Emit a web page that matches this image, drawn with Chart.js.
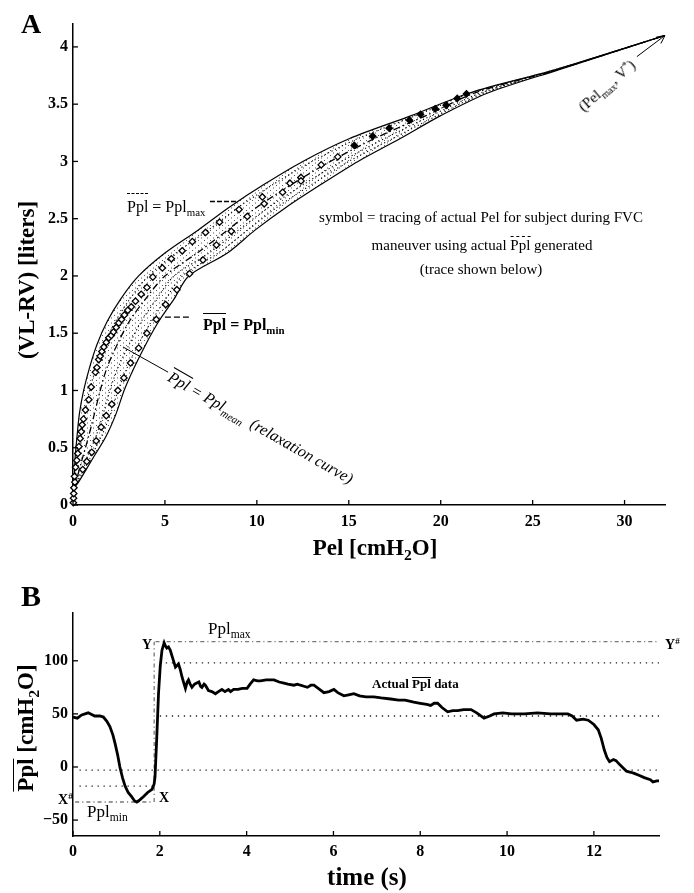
<!DOCTYPE html>
<html>
<head>
<meta charset="utf-8">
<title>Pel vs lung volume, and Ppl trace</title>
<script src="https://cdn.jsdelivr.net/npm/chart.js@4.4.0/dist/chart.umd.min.js"></script>
<style>
  html, body { margin: 0; padding: 0; background: #fff; }
  body { width: 694px; height: 893px; position: relative; overflow: hidden;
         font-family: "Liberation Serif", "Times New Roman", serif; color: #000; }
  canvas { position: absolute; left: 0; }
  #chartA { top: 0; }
  #chartB { top: 560px; }
  .lbl { position: absolute; white-space: nowrap; line-height: 1; }
  .b { font-weight: bold; }
  .ov { display: inline-block; border-top: 1.2px solid #000; line-height: 0.8; }
  .dash { border-top-style: dashed; }
  sub { font-size: 0.68em; vertical-align: -0.38em; line-height: 0; }
  sup { font-size: 0.65em; vertical-align: 0.5em; line-height: 0; }
</style>
</head>
<body>
<canvas id="chartA" width="694" height="560"></canvas>
<canvas id="chartB" width="694" height="333"></canvas>

<!-- panel A text -->
<div class="lbl b" style="left:21px;top:10px;font-size:28px">A</div>
<div class="lbl b" style="left:26px;top:280px;font-size:23px;transform:translate(-50%,-50%) rotate(-90deg)">(VL-RV) [liters]</div>
<div class="lbl b" style="left:375px;top:547px;font-size:23px;transform:translate(-50%,-50%)">Pel [cmH<sub>2</sub>O]</div>
<div class="lbl" style="left:127px;top:193px;font-size:16px"><span class="ov dash" style="padding-top:7px">Ppl</span> = Ppl<sub>max</sub></div>
<div class="lbl b" style="left:203px;top:313px;font-size:16px"><span class="ov" style="padding-top:5px">Ppl</span> = Ppl<sub>min</sub></div>
<div class="lbl" style="left:261px;top:427px;font-size:16px;font-style:italic;transform:translate(-50%,-50%) rotate(29.7deg)"><span class="ov" style="padding-top:3px">Ppl</span> = Ppl<sub>mean</sub>&nbsp; (relaxation curve)</div>
<div class="lbl" style="left:481px;top:210px;font-size:15px;transform:translateX(-50%)">symbol = tracing of actual Pel for subject during FVC</div>
<div class="lbl" style="left:482px;top:236px;font-size:15px;transform:translateX(-50%)">maneuver using actual <span class="ov dash" style="padding-top:2px">Ppl</span> generated</div>
<div class="lbl" style="left:481px;top:262px;font-size:15px;transform:translateX(-50%)">(trace shown below)</div>
<div class="lbl" style="left:607px;top:86px;font-size:15px;transform:translate(-50%,-50%) rotate(-41deg)">(Pel<sub>max</sub>, V<sup>*</sup>)</div>

<!-- panel B text -->
<div class="lbl b" style="left:21px;top:581px;font-size:30px">B</div>
<div class="lbl b" style="left:25px;top:728px;font-size:23px;transform:translate(-50%,-50%) rotate(-90deg)"><span class="ov" style="padding-top:3px">Ppl</span> [cmH<sub>2</sub>O]</div>
<div class="lbl b" style="left:367px;top:876px;font-size:25px;transform:translate(-50%,-50%)">time (s)</div>
<div class="lbl" style="left:208px;top:620px;font-size:17px">Ppl<sub>max</sub></div>
<div class="lbl b" style="left:142px;top:638px;font-size:14px">Y</div>
<div class="lbl b" style="left:665px;top:638px;font-size:14px">Y<sup>#</sup></div>
<div class="lbl b" style="left:58px;top:793px;font-size:14px">X<sup>#</sup></div>
<div class="lbl b" style="left:159px;top:791px;font-size:14px">X</div>
<div class="lbl" style="left:87px;top:803px;font-size:17px">Ppl<sub>min</sub></div>
<div class="lbl b" style="left:372px;top:677px;font-size:13px">Actual <span class="ov" style="padding-top:1px">Ppl</span> data</div>

<script>
// --- Panel A: Pel (cmH2O) read at each volume above RV (liters) ---
const volA    = [0.14, 0.2, 0.4, 0.6, 0.8, 1.0, 1.2, 1.4, 1.6, 1.8, 2.0, 2.2, 2.4, 2.6, 2.8, 3.0, 3.2, 3.4, 3.6, 3.8, 4.1];
const pelMax  = [0, 0.06, 0.11, 0.22, 0.35, 0.58, 0.9, 1.3, 1.85, 2.6, 3.57, 5.0, 6.8, 8.5, 10.4, 12.5, 15.05, 18.4, 21.6, 26.2, 32.2];
const pelD1   = [0, 0.09, 0.25, 0.45, 0.65, 0.9, 1.25, 1.7, 2.3, 3.1, 4.1, 5.6, 7.35, 9.0, 10.9, 13.0, 15.5, 18.65, 21.7, 26.2, 32.2];
const pelMean = [0, 0.15, 0.5, 0.85, 1.17, 1.48, 1.85, 2.4, 3.05, 3.95, 5.0, 6.75, 8.4, 10.0, 11.9, 14.0, 16.4, 19.2, 21.9, 26.3, 32.2];
const pelD2   = [0, 0.2, 0.72, 1.25, 1.65, 2.0, 2.45, 3.05, 3.7, 4.55, 5.5, 7.4, 9.0, 10.65, 12.55, 14.6, 16.95, 19.5, 22.2, 26.3, 32.2];
const pelD3   = [0, 0.25, 0.9, 1.55, 2.05, 2.45, 2.95, 3.55, 4.25, 5.05, 5.95, 7.9, 9.5, 11.1, 13.0, 15.0, 17.4, 19.8, 22.4, 26.35, 32.2];
const pelMin  = [0, 0.3, 1.05, 1.8, 2.35, 2.78, 3.33, 3.95, 4.65, 5.5, 6.3, 8.4, 9.9, 11.6, 13.5, 15.5, 17.8, 20.0, 22.6, 26.4, 32.2];

// symbols: subject's actual Pel during the FVC
const tracePel = [0.02, 0.03, 0.04, 0.05, 0.1,
  0.08, 0.14, 0.21, 0.26, 0.32, 0.39, 0.45, 0.5, 0.57, 0.68, 0.86, 0.99, 1.22, 1.3, 1.4, 1.48, 1.57, 1.68, 1.81, 1.95,
  2.08, 2.2, 2.35, 2.49, 2.64, 2.8, 2.98, 3.17, 3.4, 3.71, 4.02, 4.34, 4.86, 5.35, 5.94, 6.49, 7.21, 7.97, 9.03, 10.3,
  11.8, 12.4, 13.5, 14.4, 15.3, 16.3, 17.2, 18.3, 18.9, 19.7, 20.3, 20.9, 21.4,
  0.53, 0.75, 1.02, 1.26, 1.53, 1.81, 2.11, 2.44, 2.77, 3.13, 3.57, 4.02, 4.53, 5.04, 5.65, 6.34, 7.07, 7.8, 8.61, 9.48,
  10.4, 11.4, 12.4];
const traceVol = [0.02, 0.06, 0.10, 0.15, 0.2,
  0.25, 0.33, 0.39, 0.45, 0.51, 0.58, 0.64, 0.70, 0.75, 0.83, 0.92, 1.03, 1.16, 1.20, 1.27, 1.30, 1.34, 1.38, 1.42, 1.46,
  1.48, 1.51, 1.55, 1.59, 1.62, 1.66, 1.70, 1.73, 1.78, 1.84, 1.90, 1.99, 2.07, 2.15, 2.22, 2.30, 2.38, 2.47, 2.58, 2.69,
  2.81, 2.86, 2.97, 3.04, 3.14, 3.22, 3.29, 3.36, 3.41, 3.46, 3.49, 3.55, 3.59,
  0.31, 0.38, 0.46, 0.56, 0.68, 0.78, 0.88, 1.0, 1.11, 1.24, 1.37, 1.50, 1.62, 1.75, 1.88, 2.02, 2.14, 2.27, 2.39, 2.52,
  2.63, 2.73, 2.83];

const xTicksA = [0, 5, 10, 15, 20, 25, 30];
const yTicksA = [0, 0.5, 1, 1.5, 2, 2.5, 3, 3.5, 4];

// --- Panel B: actual Ppl trace (cmH2O) over time (s) ---
const timeB = [0, 0.1, 0.2, 0.35, 0.5, 0.62, 0.7, 0.78, 0.85, 0.92, 0.97, 1.03, 1.08, 1.14, 1.2, 1.27, 1.35, 1.42, 1.47,
  1.54, 1.62, 1.72, 1.82, 1.87, 1.89, 1.93, 1.97, 2.01, 2.05, 2.1, 2.13, 2.16, 2.2, 2.24, 2.3, 2.36, 2.43, 2.47, 2.51,
  2.56, 2.59, 2.63, 2.66, 2.7, 2.74, 2.8, 2.85, 2.9, 2.94, 2.97, 3.02, 3.05, 3.12, 3.2, 3.28, 3.35, 3.43, 3.5, 3.58,
  3.63, 3.7, 3.8, 3.9, 4.01, 4.08, 4.16, 4.25, 4.32, 4.45, 4.55, 4.63, 4.75, 4.86, 4.95, 5.09, 5.17, 5.24, 5.32, 5.4,
  5.48, 5.55, 5.65, 5.78, 5.9, 6.01, 6.1, 6.24, 6.35, 6.47, 6.6, 6.75, 6.93, 7.1, 7.32, 7.5, 7.65, 7.85, 8.0, 8.15,
  8.24, 8.32, 8.4, 8.5, 8.63, 8.75, 8.86, 9.0, 9.17, 9.3, 9.47, 9.6, 9.7, 9.9, 10.1, 10.4, 10.7, 11.0, 11.2, 11.4,
  11.5, 11.6, 11.75, 11.87, 12.0, 12.1, 12.17, 12.24, 12.3, 12.36, 12.45, 12.51, 12.6, 12.75, 12.85, 12.93, 13.05,
  13.16, 13.3, 13.36, 13.45, 13.5];
const pplB = [47, 46, 49, 51, 48, 48, 47, 43, 38, 30, 22, 11, 0, -10, -18, -24, -28, -32, -33,
  -31, -28, -24, -21, -16, -9, 28, 69, 95, 110, 117, 114, 112, 113, 110, 102, 94, 97, 92, 85,
  78, 74, 80, 82, 78, 75, 78, 79, 80, 76, 75, 78, 77, 72, 71, 69, 71, 73, 71, 73,
  71, 73, 73, 74, 74, 78, 82, 81, 81, 82, 82, 82, 80, 79, 78, 77, 78, 77, 76, 75,
  77, 77, 74, 70, 71, 73, 70, 67, 68, 69, 67, 66, 66, 65, 64, 63, 63, 61, 60, 59,
  58, 60, 60, 56, 52, 53, 53, 54, 54, 51, 46, 48, 50, 51, 50, 50, 51, 50, 50, 50,
  48, 44, 45, 44, 40, 35, 27, 16, 9, 5, 7, 6, 2, -4, -5, -6, -8,
  -10, -12, -14, -13, -13];

// Ppl levels: Ppl_max (Y .. Y#), intermediate levels, Ppl_min (X# .. X)
const levelPpl  = [118, 98, 48, -3, -18, -33];
const levelFrom = [1.9, 2.0, 2.0, 0.15, 0.15, 0.05];
const levelTo   = [13.5, 13.5, 13.5, 13.5, 1.85, 1.85];
const switchTime = 1.87;

const xTicksB = [0, 2, 4, 6, 8, 10, 12];
const yTicksB = [-50, 0, 50, 100];

// --- helpers ---
const serif = '"Liberation Serif", "Times New Roman", serif';
const tickFont = { family: serif, size: 16, weight: 'bold' };
const pts = (xs, ys) => xs.map((v, i) => ({ x: v, y: ys[i] }));
const fixedTicks = values => scale => { scale.ticks = values.map(v => ({ value: v })); };
const fmt = v => String(v).replace('-', '\u2212');
const dotted = [1.2, 2.6];

function stipple(canvas) {
  const c = document.createElement('canvas');
  c.width = 6; c.height = 5;
  const g = c.getContext('2d');
  g.fillStyle = '#555';
  g.fillRect(0, 0, 1, 1);
  g.fillRect(3, 2.5, 1, 1);
  return canvas.getContext('2d').createPattern(c, 'repeat');
}

function curve(data, dash, width) {
  return { data: pts(data, volA), showLine: true, borderColor: '#000', borderWidth: width || 1.1,
           borderDash: dash, pointRadius: 0, tension: 0.3, fill: false, order: 5 };
}

// inward tick marks drawn from the scales' own ticks
const inwardTicks = {
  id: 'inwardTicks',
  afterDraw(chart) {
    const { ctx, scales: { x, y } } = chart;
    ctx.save();
    ctx.strokeStyle = '#000';
    ctx.lineWidth = 1.3;
    x.ticks.forEach(t => {
      const px = x.getPixelForValue(t.value);
      ctx.beginPath(); ctx.moveTo(px, y.bottom); ctx.lineTo(px, y.bottom - 5); ctx.stroke();
    });
    y.ticks.forEach(t => {
      const py = y.getPixelForValue(t.value);
      ctx.beginPath(); ctx.moveTo(x.left, py); ctx.lineTo(x.left + 5, py); ctx.stroke();
    });
    ctx.restore();
  }
};

// label pointers for panel A, in data units
const pointerLines = [
  { from: [7.45, 2.65], to: [8.9, 2.65], dash: [5, 2], width: 1.5 },
  { from: [5.0, 1.64], to: [6.35, 1.64], dash: [6, 3], width: 1.3 },
  { from: [2.72, 1.38], to: [5.17, 1.16], dash: [], width: 1 },
  { from: [30.67, 3.915], to: [32.2, 4.1], dash: [], width: 1, arrow: true }
];
const pointers = {
  id: 'pointers',
  afterDatasetsDraw(chart) {
    const { ctx, scales: { x, y } } = chart;
    ctx.save();
    ctx.strokeStyle = '#000';
    pointerLines.forEach(l => {
      const x1 = x.getPixelForValue(l.from[0]), y1 = y.getPixelForValue(l.from[1]);
      const x2 = x.getPixelForValue(l.to[0]), y2 = y.getPixelForValue(l.to[1]);
      ctx.lineWidth = l.width;
      ctx.setLineDash(l.dash);
      ctx.beginPath(); ctx.moveTo(x1, y1); ctx.lineTo(x2, y2); ctx.stroke();
      if (l.arrow) {
        const a = Math.atan2(y2 - y1, x2 - x1), h = 9;
        ctx.setLineDash([]);
        ctx.beginPath();
        ctx.moveTo(x2 - h * Math.cos(a - 0.45), y2 - h * Math.sin(a - 0.45));
        ctx.lineTo(x2, y2);
        ctx.lineTo(x2 - h * Math.cos(a + 0.45), y2 - h * Math.sin(a + 0.45));
        ctx.stroke();
      }
    });
    ctx.restore();
  }
};

function axis(min, max, ticks, fit, padding) {
  return {
    type: 'linear', min, max,
    afterBuildTicks: fixedTicks(ticks),
    afterFit: fit,
    grid: { display: false, drawTicks: false },
    border: { display: true, color: '#000', width: 1.5 },
    ticks: { font: tickFont, color: '#000', padding, autoSkip: false, maxRotation: 0, callback: fmt }
  };
}

// --- Chart A ---
const canvasA = document.getElementById('chartA');
const bandPts = pts(pelMax, volA).concat(pts(pelMin, volA).slice(1, -1).reverse());

new Chart(canvasA, {
  type: 'scatter',
  data: {
    datasets: [
      { data: pts(tracePel, traceVol), pointStyle: 'rectRot', pointRadius: 3.2, borderWidth: 1.3,
        borderColor: '#000', backgroundColor: tracePel.map(p => p >= 15 ? '#000' : '#fff'), clip: false, order: 0 },
      curve(pelMax, [], 1.2),
      curve(pelD1, dotted),
      curve(pelMean, [7, 3, 1.5, 3], 1.3),
      curve(pelD2, dotted),
      curve(pelD3, dotted),
      curve(pelMin, [], 1.2),
      { data: bandPts, showLine: true, fill: 'shape', backgroundColor: stipple(canvasA),
        borderWidth: 0, pointRadius: 0, tension: 0.3, order: 10 }
    ]
  },
  options: {
    responsive: false, animation: false, devicePixelRatio: 1,
    layout: { padding: { top: 24, right: 29, left: 0, bottom: 0 } },
    plugins: { legend: { display: false }, tooltip: { enabled: false } },
    scales: {
      x: axis(0, 32.2, xTicksA, s => { s.height = 55; }, 7),
      y: axis(0, 4.2, yTicksA, s => { s.width = 73; }, 5)
    }
  },
  plugins: [inwardTicks, pointers]
});

// --- Chart B ---
const levelSets = levelPpl.map((lv, i) => {
  const bound = i === 0 || i === levelPpl.length - 1;
  return { data: [{ x: levelFrom[i], y: lv }, { x: levelTo[i], y: lv }], showLine: true, pointRadius: 0,
           borderColor: bound ? '#777' : '#222', borderWidth: 1.3,
           borderDash: bound ? [4, 3, 1.2, 3] : [1.3, 4.7], order: 5 };
});

new Chart(document.getElementById('chartB'), {
  type: 'scatter',
  data: {
    datasets: [
      { data: pts(timeB, pplB), showLine: true, borderColor: '#000', borderWidth: 2.8,
        pointRadius: 0, tension: 0, order: 0 },
      ...levelSets,
      { data: [{ x: switchTime, y: levelPpl[levelPpl.length - 1] }, { x: switchTime, y: levelPpl[0] }],
        showLine: true, pointRadius: 0, borderColor: '#777', borderWidth: 1.3, borderDash: [4, 3, 1.2, 3], order: 5 }
    ]
  },
  options: {
    responsive: false, animation: false, devicePixelRatio: 1,
    layout: { padding: { top: 53, right: 35, left: 0, bottom: 0 } },
    plugins: { legend: { display: false }, tooltip: { enabled: false } },
    scales: {
      x: axis(0, 13.5, xTicksB, s => { s.height = 57; }, 6),
      y: axis(-65, 145, yTicksB, s => { s.width = 73; }, 5)
    }
  },
  plugins: [inwardTicks]
});
</script>
</body>
</html>
